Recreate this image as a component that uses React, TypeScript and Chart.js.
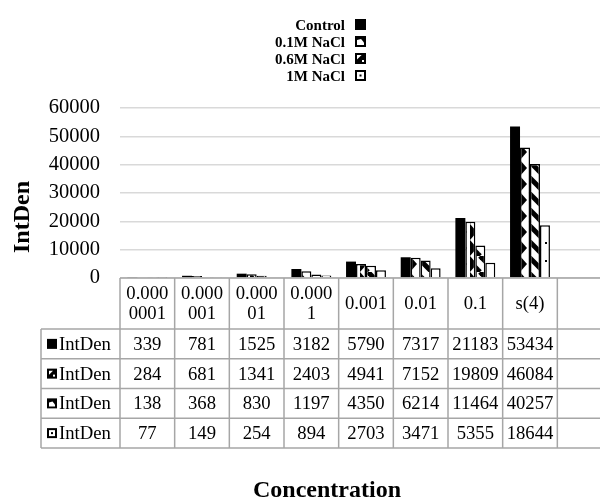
import React, { useEffect, useRef } from 'react';
import { Chart, registerables } from 'chart.js';

Chart.register(...registerables);

const CATEGORIES = ['0.0000001', '0.000001', '0.00001', '0.0001', '0.001', '0.01', '0.1', 's(4)', ''];
const HEADER_LINES = [['0.000', '0001'], ['0.000', '001'], ['0.000', '01'], ['0.000', '1'], ['0.001'], ['0.01'], ['0.1'], ['s(4)'], []];
const SERIES_NAMES = ['Control', '0.1M NaCl', '0.6M NaCl', '1M NaCl'];
const CONTROL = [339, 781, 1525, 3182, 5790, 7317, 21183, 53434];
const NACL_01 = [284, 681, 1341, 2403, 4941, 7152, 19809, 46084];
const NACL_06 = [138, 368, 830, 1197, 4350, 6214, 11464, 40257];
const NACL_1 = [77, 149, 254, 894, 2703, 3471, 5355, 18644];
const ROW_LABEL = 'IntDen';
const Y_TITLE = 'IntDen';
const X_TITLE = 'Concentration';
const Y_MIN = 0;
const Y_MAX = 60000;
const Y_STEP = 10000;

const SERIF = "'Liberation Serif', 'Times New Roman', serif";
const GRID = '#a6a6a6';

function makePattern(kind: number): CanvasPattern | string {
  if (kind === 0) return '#000000';
  const c = document.createElement('canvas');
  const g = c.getContext('2d') as CanvasRenderingContext2D;
  if (kind === 1) {
    c.width = 10; c.height = 16;
    g.fillStyle = '#fff'; g.fillRect(0, 0, 10, 16);
    g.fillStyle = '#000';
    g.beginPath(); g.moveTo(0, 0); g.lineTo(7, 8); g.lineTo(0, 16); g.closePath(); g.fill();
  } else if (kind === 2) {
    c.width = 16; c.height = 16;
    g.fillStyle = '#fff'; g.fillRect(0, 0, 16, 16);
    g.strokeStyle = '#000'; g.lineWidth = 5;
    for (const o of [-16, 0, 16]) {
      g.beginPath(); g.moveTo(o, 0); g.lineTo(o + 16, 16); g.stroke();
    }
  } else {
    c.width = 12; c.height = 18;
    g.fillStyle = '#fff'; g.fillRect(0, 0, 12, 18);
    g.fillStyle = '#000'; g.fillRect(5, 8, 2, 2);
  }
  const ctx = document.createElement('canvas').getContext('2d') as CanvasRenderingContext2D;
  return ctx.createPattern(c, 'repeat') as CanvasPattern;
}

function drawIcon(ctx: CanvasRenderingContext2D, kind: number, x: number, y: number, s: number) {
  ctx.save();
  if (kind === 0) {
    ctx.fillStyle = '#000'; ctx.fillRect(x, y, s, s);
  } else if (kind === 1) {
    ctx.fillStyle = '#000'; ctx.fillRect(x, y, s, s);
    ctx.fillStyle = '#fff';
    ctx.beginPath();
    ctx.moveTo(x + 2, y + s - 2); ctx.lineTo(x + 2, y + 4); ctx.lineTo(x + s * 0.55, y + 3);
    ctx.lineTo(x + s - 2, y + s * 0.6); ctx.lineTo(x + s - 2, y + s - 2); ctx.closePath(); ctx.fill();
  } else if (kind === 2) {
    ctx.fillStyle = '#000'; ctx.fillRect(x, y, s, s);
    ctx.fillStyle = '#fff';
    ctx.beginPath(); ctx.moveTo(x + 2, y + 2); ctx.lineTo(x + s * 0.6, y + 2); ctx.lineTo(x + 2, y + s * 0.6); ctx.closePath(); ctx.fill();
    ctx.fillRect(x + s - 4, y + s - 4, 2, 2);
  } else {
    ctx.fillStyle = '#000'; ctx.fillRect(x, y, s, s);
    ctx.fillStyle = '#fff'; ctx.fillRect(x + 2, y + 2, s - 4, s - 4);
    ctx.fillStyle = '#000'; ctx.fillRect(x + s / 2 - 1, y + s / 2 - 1, 2, 2);
  }
  ctx.restore();
}

const SERIES = [CONTROL, NACL_01, NACL_06, NACL_1];
const TABLE_ICON_KIND = [0, 2, 1, 3];

const tablePlugin = {
  id: 'tablePlugin',
  afterDraw(chart: any) {
    const ctx: CanvasRenderingContext2D = chart.ctx;
    const area = chart.chartArea;
    const n = CATEGORIES.length;
    const w = (area.right - area.left) / n;
    const top = area.bottom;
    const headerBottom = top + 51;
    const rowH = 29.75;
    const keyLeft = 41;
    const tableBottom = headerBottom + rowH * SERIES.length;
    ctx.save();
    ctx.strokeStyle = GRID;
    ctx.lineWidth = 1.5;
    ctx.beginPath();
    ctx.moveTo(area.left, top); ctx.lineTo(chart.width, top);
    for (let r = 0; r <= SERIES.length; r++) {
      const y = headerBottom + r * rowH;
      ctx.moveTo(keyLeft, y); ctx.lineTo(chart.width, y);
    }
    ctx.moveTo(keyLeft, headerBottom); ctx.lineTo(keyLeft, tableBottom);
    for (let i = 0; i <= n; i++) {
      const x = area.left + i * w;
      ctx.moveTo(x, top); ctx.lineTo(x, tableBottom);
    }
    ctx.stroke();

    ctx.fillStyle = '#000';
    ctx.font = `18.7px ${SERIF}`;
    ctx.textAlign = 'center';
    ctx.textBaseline = 'middle';
    const xs = chart.scales.x;
    const hMid = (top + headerBottom) / 2;
    HEADER_LINES.forEach((lines, i) => {
      const cx = xs.getPixelForValue(i);
      const lh = 20;
      lines.forEach((t, k) => {
        ctx.fillText(t, cx, hMid + (k - (lines.length - 1) / 2) * lh + 1);
      });
    });
    SERIES.forEach((vals, r) => {
      const cy = headerBottom + r * rowH + rowH / 2 + 1;
      vals.forEach((v, i) => {
        ctx.fillText(String(v), xs.getPixelForValue(i), cy);
      });
      drawIcon(ctx, TABLE_ICON_KIND[r], 47, cy - 6, 10);
      ctx.textAlign = 'left';
      ctx.fillText(ROW_LABEL, 59, cy);
      ctx.textAlign = 'center';
    });

    ctx.font = `bold 15px ${SERIF}`;
    ctx.textAlign = 'right';
    ctx.textBaseline = 'alphabetic';
    SERIES_NAMES.forEach((name, i) => {
      const base = 30 + i * 17;
      ctx.fillText(name, 345, base);
      drawIcon(ctx, i, 355, base - 11, 11);
    });

    ctx.font = `bold 24px ${SERIF}`;
    ctx.textAlign = 'center';
    ctx.fillText(X_TITLE, 327, 497);
    ctx.save();
    ctx.translate(29, 217);
    ctx.rotate(-Math.PI / 2);
    ctx.fillText(Y_TITLE, 0, 0);
    ctx.restore();
    ctx.restore();
  },
};

export default function App() {
  const ref = useRef<HTMLCanvasElement | null>(null);
  useEffect(() => {
    if (!ref.current) return;
    const kinds = [0, 1, 2, 3];
    const chart = new Chart(ref.current, {
      type: 'bar',
      data: {
        labels: CATEGORIES,
        datasets: SERIES.map((vals, i) => ({
          label: SERIES_NAMES[i],
          data: vals,
          backgroundColor: makePattern(kinds[i]) as any,
          borderColor: '#000',
          borderWidth: i === 0 ? 0 : 1.5,
          categoryPercentage: 0.73,
          barPercentage: 1.0,
        })),
      },
      options: {
        animation: false,
        responsive: false,
        devicePixelRatio: 1,
        layout: { padding: { top: 108, left: 0, right: 0, bottom: 0 } },
        plugins: { legend: { display: false }, tooltip: { enabled: false } },
        scales: {
          x: {
            grid: { display: false },
            border: { display: false },
            ticks: { display: false },
            afterFit: (s: any) => { s.height = 222; },
          },
          y: {
            min: Y_MIN,
            max: Y_MAX,
            ticks: {
              stepSize: Y_STEP,
              padding: 20,
              color: '#000',
              font: { family: SERIF, size: 20.5 },
              callback: (v: any) => String(v),
            },
            grid: { color: '#d9d9d9', lineWidth: 1.5, drawTicks: false },
            border: { display: false },
            afterFit: (s: any) => { s.width = 120; },
          },
        },
      },
      plugins: [tablePlugin],
    });
    return () => chart.destroy();
  }, []);
  return (
    <div style={{ position: 'fixed', left: 0, top: 0, width: 600, height: 500, overflow: 'hidden', background: '#fff' }}>
      <canvas ref={ref} width={612} height={500} style={{ display: 'block' }} />
    </div>
  );
}
